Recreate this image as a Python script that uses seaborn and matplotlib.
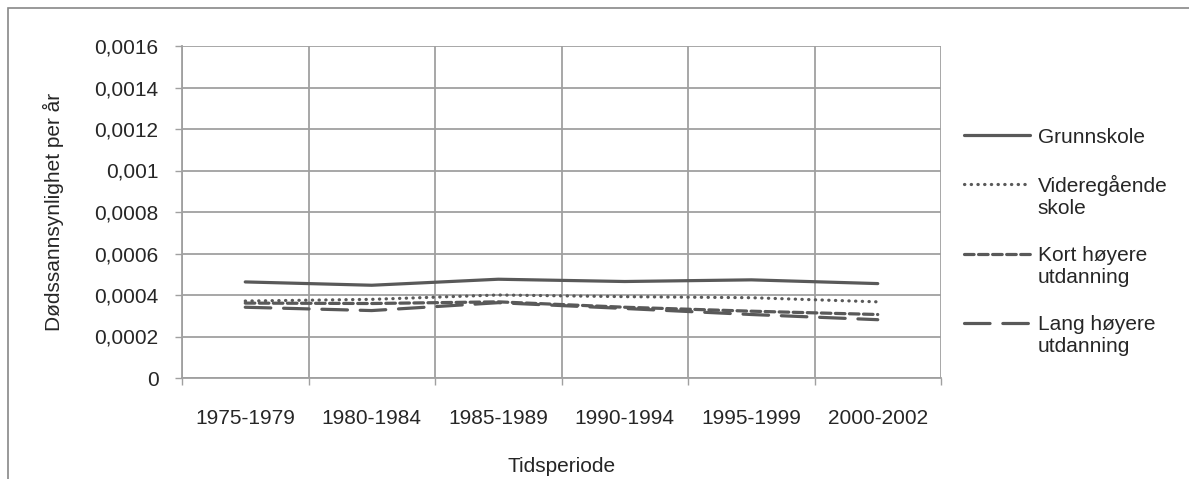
import numpy as np
import pandas as pd
import matplotlib
matplotlib.use('Agg')
import matplotlib.pyplot as plt
import matplotlib.ticker as mticker
from matplotlib.patches import Rectangle
import seaborn as sns

# ── DATA ──────────────────────────────────────────────────────────────────────
perioder = ['1975-1979', '1980-1984', '1985-1989', '1990-1994', '1995-1999', '2000-2002']
grunnskole = [0.000463, 0.000447, 0.000476, 0.000465, 0.000473, 0.000455]
videregaende = [0.000371, 0.000379, 0.000400, 0.000392, 0.000387, 0.000367]
kort_hoyere = [0.000361, 0.000359, 0.000367, 0.000341, 0.000322, 0.000306]
lang_hoyere = [0.000341, 0.000325, 0.000363, 0.000335, 0.000306, 0.000281]

serier = ['Grunnskole', 'Videregående skole', 'Kort høyere utdanning', 'Lang høyere utdanning']
legend_labels = ['Grunnskole', 'Videregående\nskole', 'Kort høyere\nutdanning', 'Lang høyere\nutdanning']

df = pd.DataFrame({
    'Tidsperiode': perioder * 4,
    'Verdi': grunnskole + videregaende + kort_hoyere + lang_hoyere,
    'Serie': np.repeat(serier, len(perioder)),
})

# ── STYLE ─────────────────────────────────────────────────────────────────────
sns.set_style('white')
plt.rcParams['font.family'] = ['Liberation Sans', 'DejaVu Sans']
FS = 15
plt.rcParams['font.size'] = FS

grey = '#595959'
gridc = '#a0a0a0'

fig = plt.figure(figsize=(11.89, 4.79), dpi=100)
ax = fig.add_axes([182 / 1189, 1 - 378 / 479, (941 - 182) / 1189, (378 - 46) / 479])

dashes = {
    'Grunnskole': '',
    'Videregående skole': (0.1, 2.0),
    'Kort høyere utdanning': (3.0, 1.4),
    'Lang høyere utdanning': (8.0, 4.0),
}
sns.lineplot(data=df, x='Tidsperiode', y='Verdi', hue='Serie', style='Serie',
             palette=[grey] * 4, dashes=dashes, linewidth=2.3,
             dash_capstyle='round', legend=False, ax=ax, sort=False)

# ── AKSER ─────────────────────────────────────────────────────────────────────
ax.set_xlim(-0.5, len(perioder) - 0.5)
ax.set_ylim(0, 0.0016)
ax.yaxis.set_major_locator(mticker.MultipleLocator(0.0002))
ax.yaxis.set_major_formatter(mticker.FuncFormatter(lambda v, p: '{:g}'.format(v).replace('.', ',')))
ax.xaxis.set_minor_locator(mticker.FixedLocator(np.arange(-0.5, len(perioder), 1.0)))
ax.grid(True, which='major', axis='y', color=gridc, linewidth=1.3)
ax.grid(True, which='minor', axis='x', color=gridc, linewidth=1.3)
ax.set_axisbelow(True)

for s in ['top', 'right']:
    ax.spines[s].set_visible(False)
for s in ['left', 'bottom']:
    ax.spines[s].set_color(gridc)
    ax.spines[s].set_linewidth(1.3)

ax.tick_params(axis='y', which='major', length=5, width=1, color=gridc, pad=12, left=True, labelsize=FS)
ax.tick_params(axis='x', which='major', length=0, pad=22, labelsize=FS)
ax.tick_params(axis='x', which='minor', length=5, width=1, color=gridc, bottom=True)

ax.set_xlabel('Tidsperiode', fontsize=FS)
ax.set_ylabel('Dødssannsynlighet per år', fontsize=FS)
ax.xaxis.set_label_coords(0.5, -(457 - 378) / 332)
ax.yaxis.set_label_coords((64 - 182) / 759, 0.5)

# ── LEGEND ────────────────────────────────────────────────────────────────────
handles = ax.get_lines()[:4]
leg = fig.legend(handles, legend_labels, loc='upper left',
                 bbox_to_anchor=(945 / 1189, 1 - 109 / 479), frameon=False,
                 handlelength=3.2, handletextpad=0.35, labelspacing=1.35, fontsize=FS)
# flytt symbolet opp til første tekstlinje for to-linjers etiketter
for h, lab in zip(leg.legend_handles, legend_labels):
    if '\n' in lab:
        h.set_ydata(np.asarray(h.get_ydata()) + 0.6 * FS)

# ramme rundt figuren
fig.patches.append(Rectangle((8 / 1189, -0.1), 1.1, 1.1 - 8 / 479,
                             transform=fig.transFigure, fill=False,
                             edgecolor='#888888', linewidth=1.2))

plt.savefig('out.png', dpi=100)
plt.close()
